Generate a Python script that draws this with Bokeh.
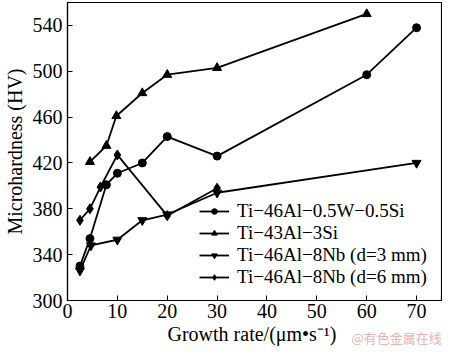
from bokeh.plotting import figure
from bokeh.models import Legend, LegendItem, Range1d, FixedTicker, LinearAxis
from bokeh.embed import file_html
from bokeh.resources import INLINE

# Data
x_w = [2.5, 4.5, 7.8, 10, 15, 20, 30, 60, 70]
y_w = [330, 354, 401, 411, 420, 443, 426, 497, 538]
x_si = [4.5, 7.8, 9.8, 15, 20, 30, 60]
y_si = [421, 435, 461, 481, 497, 503, 550]
x_nb3 = [2.5, 4.7, 10, 15, 20, 30, 70]
y_nb3 = [326, 348, 353, 370, 375, 394, 420]
x_nb6 = [2.5, 4.5, 6.6, 10, 20, 30]
y_nb6 = [370, 380, 399, 427, 374, 398]

labels = ["Ti\u221246Al\u22120.5W\u22120.5Si", "Ti\u221243Al\u22123Si",
          "Ti\u221246Al\u22128Nb (d=3 mm)", "Ti\u221246Al\u22128Nb (d=6 mm)"]
x_ticks = [0, 10, 20, 30, 40, 50, 60, 70]
y_ticks = [300, 340, 380, 420, 460, 500, 540]
x_title = "Growth rate/(\u03bcm\u2022s\u207b\u00b9)"
y_title = "Microhardness (HV)"
watermark = "@有色金属在线"

FONT = "Liberation Serif"

p = figure(width=442, height=349, output_backend="svg", toolbar_location=None,
           x_range=Range1d(0, 75), y_range=Range1d(300, 560),
           min_border_left=55, min_border_right=1, min_border_top=2, min_border_bottom=30)
p.grid.visible = False
p.outline_line_color = "black"
p.outline_line_width = 1.2
p.background_fill_color = "white"
p.border_fill_color = "white"

for ax in (p.xaxis[0], p.yaxis[0]):
    ax.major_tick_in = 5
    ax.major_tick_out = 0
    ax.minor_tick_line_color = None
    ax.axis_line_color = "black"
    ax.axis_line_width = 1.2
    ax.major_tick_line_color = "black"
    ax.major_label_text_font = FONT
    ax.major_label_text_font_size = "20px"
    ax.major_label_text_color = "black"
    ax.axis_label_text_font = FONT
    ax.axis_label_text_font_size = "20px"
    ax.axis_label_text_font_style = "normal"
    ax.axis_label_text_color = "black"

p.xaxis.ticker = FixedTicker(ticks=x_ticks)
p.yaxis.ticker = FixedTicker(ticks=y_ticks)
p.yaxis.axis_label = y_title
p.xaxis.major_label_standoff = 3
p.yaxis.major_label_standoff = 5
p.yaxis.axis_label_standoff = 4

# x-axis title carried by a bare extra axis below the tick labels
tax = LinearAxis(ticker=FixedTicker(ticks=[37]), major_label_overrides={37: x_title},
                 axis_line_color=None, major_tick_line_color=None, minor_tick_line_color=None,
                 major_label_text_font=FONT, major_label_text_font_size="20px",
                 major_label_text_color="black", major_label_standoff=-4)
p.add_layout(tax, "below")

# watermark carried by another bare axis
wax = LinearAxis(ticker=FixedTicker(ticks=[66]), major_label_overrides={66: watermark},
                 axis_line_color=None, major_tick_line_color=None, minor_tick_line_color=None,
                 major_label_text_font="Noto Sans CJK SC", major_label_text_font_size="13px",
                 major_label_text_color="#f2b0b0", major_label_standoff=-26)
p.add_layout(wax, "below")

series = [(x_w, y_w, "circle", 8), (x_si, y_si, "triangle", 9),
          (x_nb3, y_nb3, "inverted_triangle", 9), (x_nb6, y_nb6, "diamond", 10)]
items = []
for (xs, ys, mk, sz), lab in zip(series, labels):
    l = p.line(xs, ys, line_color="black", line_width=1.8)
    s = p.scatter(xs, ys, marker=mk, size=sz, fill_color="black", line_color="black")
    items.append(LegendItem(label=lab, renderers=[l, s]))

legend = Legend(items=items, location=(132, 12), orientation="vertical",
                background_fill_alpha=0, border_line_color=None,
                label_text_font=FONT, label_text_font_size="19px",
                label_text_color="black", glyph_width=30, glyph_height=14,
                label_height=14, spacing=0, padding=0, margin=0,
                label_standoff=8)
p.add_layout(legend, "center")

open("out.html", "w").write(file_html(p, INLINE))
